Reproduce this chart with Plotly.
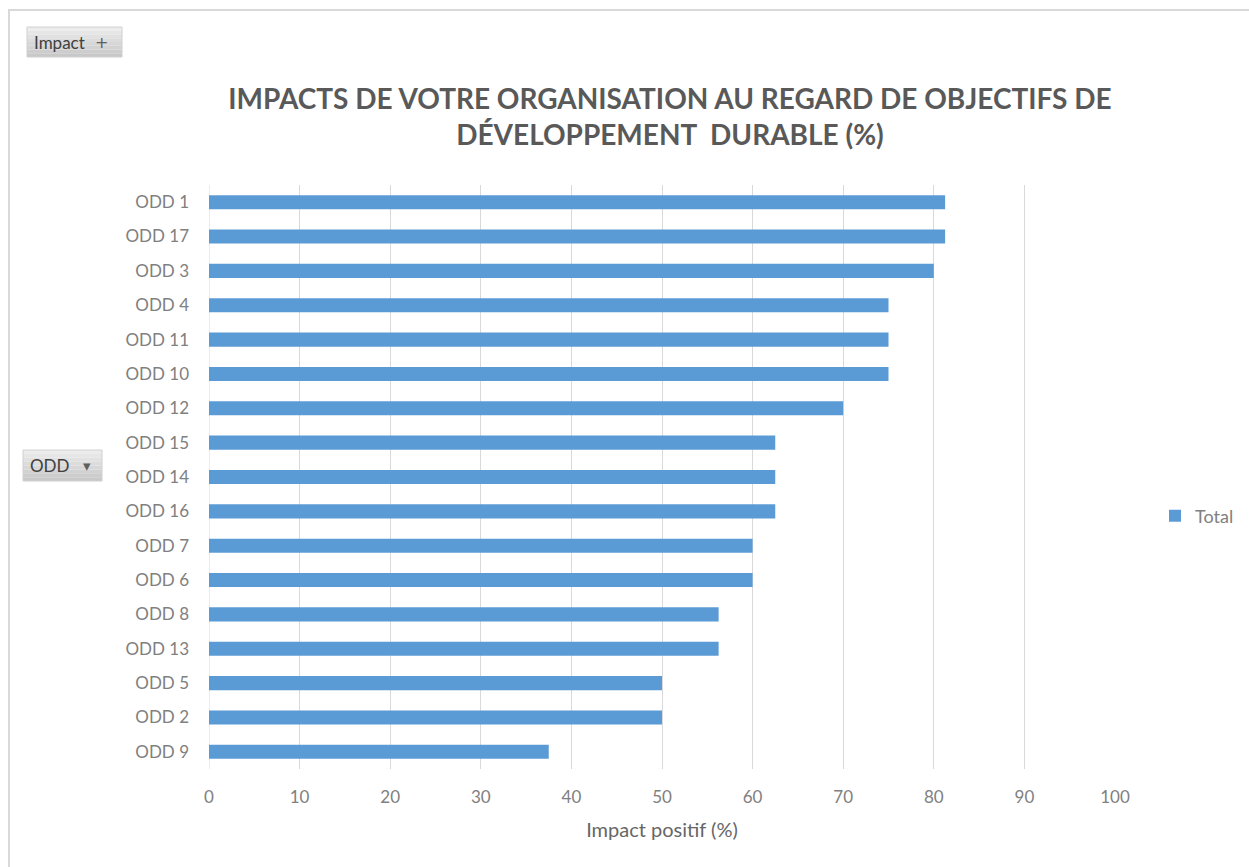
import plotly.graph_objects as go

categories = ["ODD 1", "ODD 17", "ODD 3", "ODD 4", "ODD 11", "ODD 10", "ODD 12",
              "ODD 15", "ODD 14", "ODD 16", "ODD 7", "ODD 6", "ODD 8", "ODD 13",
              "ODD 5", "ODD 2", "ODD 9"]
values = [81.25, 81.25, 80, 75, 75, 75, 70, 62.5, 62.5, 62.5, 60, 60, 56.25, 56.25,
          50, 50, 37.5]
x_ticks = [0, 10, 20, 30, 40, 50, 60, 70, 80, 90, 100]

FONT = "Lato, Carlito, 'Open Sans', sans-serif"
L, R, T, B = 209, 134, 185, 98
PW, PH = 1249 - L - R, 867 - T - B

fig = go.Figure()
fig.add_trace(go.Bar(
    y=categories, x=values, orientation="h", name="Total",
    marker=dict(color="#5b9bd5", line=dict(width=0)),
    width=0.41,
))

fig.update_layout(
    width=1249, height=867,
    margin=dict(l=L, r=R, t=T, b=B, autoexpand=False),
    paper_bgcolor="white", plot_bgcolor="white",
    font=dict(family=FONT, color="#7f7f7f", size=17),
    title=dict(
        text="IMPACTS DE VOTRE ORGANISATION AU REGARD DE OBJECTIFS DE<br>DÉVELOPPEMENT  DURABLE (%)",
        x=(670 - L) / PW, xref="paper", xanchor="center",
        y=1 - 109 / 867, yanchor="middle",
        font=dict(family=FONT, size=28, color="#595959", weight="bold"),
    ),
    xaxis=dict(
        range=[0, 100], tickvals=x_ticks, showgrid=True, gridcolor="#d9d9d9",
        gridwidth=1, zeroline=False, showline=False, ticks="",
        ticklabelstandoff=16,
        tickfont=dict(size=17, color="#808080"),
        title=dict(text="Impact positif (%)", font=dict(size=20, color="#666666"), standoff=16),
    ),
    yaxis=dict(
        categoryorder="array", categoryarray=categories, autorange="reversed",
        range=[16.5, -0.5], showgrid=False, zeroline=False, showline=False,
        ticks="", ticklabelstandoff=19, tickfont=dict(size=17, color="#808080"),
    ),
    legend=dict(x=(1155 - L) / PW, xanchor="left", y=(769 - 516) / PH, yanchor="middle",
                font=dict(size=18, color="#808080"), bgcolor="rgba(0,0,0,0)",
                itemwidth=30),
    bargap=0.59,
    showlegend=True,
)

# x=0 gridline
fig.add_shape(type="line", xref="x", yref="paper", x0=0, x1=0, y0=0, y1=1,
              line=dict(color="#d9d9d9", width=1), layer="below")

# outer chart border
fig.add_shape(type="rect", xref="paper", yref="paper",
              x0=(9 - L) / PW, x1=(1400 - L) / PW, y0=-300 / PH, y1=(867 - B - 10) / PH,
              line=dict(color="#d9d9d9", width=2), fillcolor="rgba(0,0,0,0)")

def px_x(px):
    return (px - L) / PW

def px_y(py):
    return (867 - B - py) / PH

# pivot field buttons with a light vertical gradient
def button(x0, y0, x1, y1, label, glyph, glyph_x, glyph_size):
    n = 8
    top, bot = (236, 236, 236), (200, 200, 200)
    h = (y1 - y0) / n
    for i in range(n):
        t = i / (n - 1)
        c = tuple(int(top[k] + (bot[k] - top[k]) * t) for k in range(3))
        fig.add_shape(type="rect", xref="paper", yref="paper",
                      x0=px_x(x0), x1=px_x(x1),
                      y0=px_y(y0 + h * (i + 1)), y1=px_y(y0 + h * i),
                      line=dict(width=0), fillcolor="rgb(%d,%d,%d)" % c)
    fig.add_shape(type="rect", xref="paper", yref="paper",
                  x0=px_x(x0), x1=px_x(x1), y0=px_y(y1), y1=px_y(y0),
                  line=dict(color="#d0d0d0", width=1), fillcolor="rgba(0,0,0,0)")
    fig.add_annotation(xref="paper", yref="paper",
                       x=px_x(x0 + 5), y=px_y((y0 + y1) / 2),
                       xanchor="left", yanchor="middle", showarrow=False,
                       text=label, font=dict(family=FONT, size=17, color="#404040"))
    fig.add_annotation(xref="paper", yref="paper",
                       x=px_x(glyph_x), y=px_y((y0 + y1) / 2),
                       xanchor="center", yanchor="middle", showarrow=False,
                       text=glyph, font=dict(family="DejaVu Sans", size=glyph_size, color="#606060"))

button(27, 27, 122, 57, "Impact", "+", 101, 16)
button(23, 450, 102, 481, "ODD", "▾", 87, 15)

fig.write_html("out.html")
